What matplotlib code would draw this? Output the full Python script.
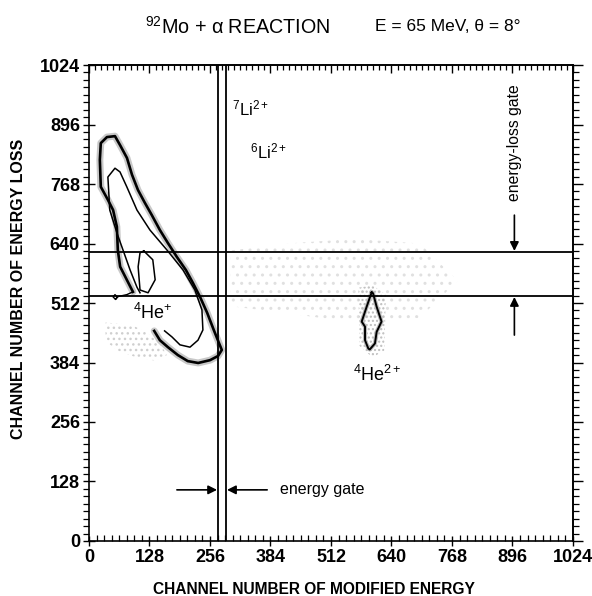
import matplotlib
matplotlib.use('Agg')
import matplotlib.pyplot as plt
from matplotlib.ticker import MultipleLocator, NullFormatter

plt.rcParams['font.family'] = ['Liberation Sans', 'DejaVu Sans']
plt.rcParams['mathtext.fontset'] = 'custom'
plt.rcParams['mathtext.rm'] = 'Liberation Sans'
plt.rcParams['mathtext.it'] = 'Liberation Sans:italic'
plt.rcParams['mathtext.bf'] = 'Liberation Sans:bold'

# ---------------- data ----------------
tick_values = [0, 128, 256, 384, 512, 640, 768, 896, 1024]
tick_labels = ['0', '128', '256', '384', '512', '640', '768', '896', '1024']

energy_gate_x = [273, 290]
eloss_gate_y = [527, 622]

# outer (thick) contour of the 4He+ band (open path: tail -> left edge -> top -> right edge -> bottom)
outer_x = [93, 80, 66, 61, 59, 51, 40, 25, 23, 25, 38, 55, 65.6, 80.4, 91, 103.7, 118.5,
           133, 150, 167, 186, 205, 220, 235, 250, 264, 275, 281, 273, 256, 231, 209,
           188, 167, 150, 138]
outer_y = [536, 562, 590, 626, 676, 712, 734, 762, 820, 856, 869, 871, 852, 824, 788, 755, 727,
           701, 669, 641, 611, 583, 555, 525, 491, 454, 426, 411, 398, 389, 383, 387,
           400, 417, 432, 452]

# inner contour (open path)
inner_x = [108, 101.5, 87, 72, 59, 44, 40, 55, 65.6, 80, 101.5, 129, 165, 199, 224, 239,
           241, 230.6, 213.7, 192.5, 175.6, 160]
inner_y = [534, 546, 583, 626, 663, 712, 783, 802, 794, 762, 712, 669, 626, 583, 540, 497,
           454, 432, 417, 422, 439, 452]

# small closed contour inside the gate
small_x = [116, 135, 140, 125, 108, 104, 108, 116]
small_y = [624, 605, 562, 534, 540, 590, 620, 624]

# small loop + tail at the lower-left
tail_x = [56, 51, 55, 60, 56, 62, 80, 93]
tail_y = [520, 525, 530, 525, 520, 526, 530, 536]

# 4He2+ contour
he2_x = [598, 587.5, 577, 584, 584, 591, 594, 605, 608.6, 619, 608.6, 601, 598]
he2_y = [535, 504, 472, 461, 432, 414, 412, 425, 450, 472, 504, 533, 535]

# faint count regions (scattered events)
noise1_x = [35, 90, 120, 150, 165, 140, 100, 60, 35]
noise1_y = [470, 465, 450, 425, 400, 388, 395, 410, 430]
noise2_x = [300, 420, 560, 700, 780, 700, 560, 420, 300]
noise2_y = [625, 640, 650, 640, 560, 480, 470, 490, 505]
noise3_x = [570, 600, 628, 625, 600, 572]
noise3_y = [545, 550, 530, 410, 395, 420]

# labels: (text, x, y, size)
ion_labels = [
    (r'$^{7}\mathrm{Li}^{2+}$', 302, 931, 12),
    (r'$^{6}\mathrm{Li}^{2+}$', 341, 837, 12),
    (r'$^{4}\mathrm{He}^{+}$', 93, 491, 13),
    (r'$^{4}\mathrm{He}^{2+}$', 558, 357, 13),
]

# ---------------- figure ----------------
fig = plt.figure(figsize=(5.92, 5.96), dpi=100)
ax = fig.add_axes([0.1503, 0.0923, 0.8176, 0.7986])
ax.set_xlim(0, 1024)
ax.set_ylim(0, 1024)

# scattered-count shading
ax.fill(noise1_x, noise1_y, facecolor='none', edgecolor='#cfcfcf', hatch='...', lw=0, zorder=1)
ax.fill(noise2_x, noise2_y, facecolor='none', edgecolor='#e0e0e0', hatch='..', lw=0, zorder=1)
ax.fill(noise3_x, noise3_y, facecolor='none', edgecolor='#bdbdbd', hatch='....', lw=0, zorder=1)

# grey halo of the outer contour
ax.plot(outer_x, outer_y, color='#c8c8c8', lw=5, zorder=2, solid_joinstyle='round',
        solid_capstyle='round')
ax.plot(outer_x, outer_y, color='black', lw=1.9, zorder=3)
ax.plot(inner_x, inner_y, color='black', lw=1.1, zorder=3)
ax.plot(small_x, small_y, color='black', lw=1.1, zorder=3)
ax.plot(tail_x, tail_y, color='black', lw=1.0, zorder=3)
ax.plot(he2_x, he2_y, color='#bbbbbb', lw=3.0, zorder=2)
ax.plot(he2_x, he2_y, color='black', lw=1.4, zorder=3)

# gates
for gx in energy_gate_x:
    ax.axvline(gx, color='black', lw=1.3, zorder=4)
for gy in eloss_gate_y:
    ax.axhline(gy, color='black', lw=1.3, zorder=4)

arrow_kw = dict(arrowstyle='-|>', mutation_scale=13, lw=1.2, color='black',
                shrinkA=0, shrinkB=0)
ax.annotate('', xy=(energy_gate_x[0] - 2, 110), xytext=(186, 110), arrowprops=arrow_kw)
ax.annotate('', xy=(energy_gate_x[1] + 2, 110), xytext=(377, 110), arrowprops=arrow_kw)
ax.text(404, 110, 'energy gate', fontsize=11.5, va='center', ha='left')

ax.annotate('', xy=(900, eloss_gate_y[1] + 2), xytext=(900, 701), arrowprops=arrow_kw)
ax.annotate('', xy=(900, eloss_gate_y[0] - 2), xytext=(900, 443), arrowprops=arrow_kw)
ax.text(901, 858, 'energy-loss gate', fontsize=11.3, rotation=90, va='center', ha='center')

for txt, lx, ly, fs in ion_labels:
    ax.text(lx, ly, txt, fontsize=fs, ha='left', va='center')

# ticks
ax.set_xticks(tick_values)
ax.set_xticklabels(tick_labels)
ax.set_yticks(tick_values)
ax.set_yticklabels(tick_labels)
ax.xaxis.set_minor_locator(MultipleLocator(16))
ax.yaxis.set_minor_locator(MultipleLocator(16))
for lab in ax.get_xticklabels() + ax.get_yticklabels():
    lab.set_fontweight('bold')
    lab.set_fontsize(13)
ax.tick_params(axis='x', which='major', direction='inout', length=7, width=1.0, pad=2)
ax.tick_params(axis='x', which='minor', direction='in', length=4, width=0.9)
ax.tick_params(axis='y', which='major', direction='inout', length=9, width=1.0, pad=2)
ax.tick_params(axis='y', which='minor', direction='out', length=4, width=0.9)
ax.tick_params(top=False, right=False, which='both')

top = ax.secondary_xaxis('top')
top.set_xticks(tick_values)
top.xaxis.set_major_formatter(NullFormatter())
top.xaxis.set_minor_locator(MultipleLocator(12.8))
top.tick_params(which='major', direction='in', length=6, width=1.0)
top.tick_params(which='minor', direction='in', length=3.5, width=0.9)

right = ax.secondary_yaxis('right')
right.set_yticks(tick_values)
right.yaxis.set_major_formatter(NullFormatter())
right.yaxis.set_minor_locator(MultipleLocator(16))
right.tick_params(which='major', direction='out', length=7, width=1.0)
right.tick_params(which='minor', direction='out', length=4, width=0.9)

for sp in list(ax.spines.values()) + list(top.spines.values()) + list(right.spines.values()):
    sp.set_linewidth(1.2)

ax.set_xlabel('CHANNEL NUMBER OF MODIFIED ENERGY', fontsize=11.2, fontweight='bold')
ax.xaxis.set_label_coords(0.465, -0.087)
ax.set_ylabel('CHANNEL NUMBER OF ENERGY LOSS', fontsize=11.5, fontweight='bold')
ax.yaxis.set_label_coords(-0.13, 0.53)

fig.text(0.401, 0.955, r'$^{92}$Mo + α REACTION', fontsize=14.2, ha='center', va='center')
fig.text(0.757, 0.955, 'E = 65 MeV, θ = 8°', fontsize=12.5, ha='center', va='center')

fig.savefig('out.png', dpi=100)
